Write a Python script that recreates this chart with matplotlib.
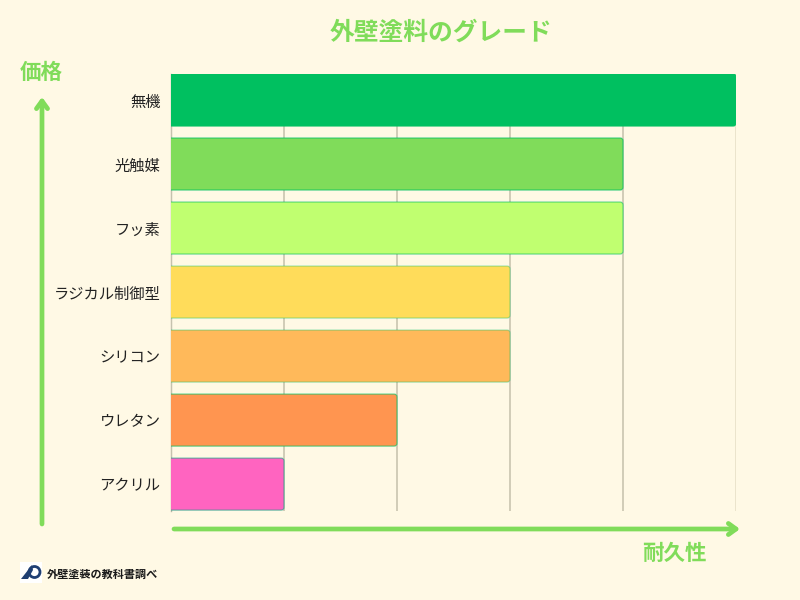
#!/usr/bin/env python3

import matplotlib.pyplot as plt
from matplotlib.patches import Circle, FancyBboxPatch, Polygon, Rectangle

plt.rcParams['font.family'] = ['Noto Sans CJK JP', 'DejaVu Sans']

grades = ["無機", "光触媒", "フッ素", "ラジカル制御型", "シリコン", "ウレタン", "アクリル"]
durability = [5, 4, 4, 3, 3, 2, 1]
colors = ["#00C060", "#80DC5A", "#C0FF70", "#FFDC5A", "#FFB95A", "#FF9550", "#FF64C0"]
edges = ["#00C060", "#00C060bb", "#00C06099", "#00C06066", "#00C06066", "#00C060aa", "#00A08099"]
ticks = [0, 1, 2, 3, 4, 5]

BG = "#FFF9E5"
GREEN = "#80DC5A"

fig = plt.figure(figsize=(8, 6), dpi=100, facecolor=BG)

# plot area, in pixels from the top left of the picture
left, right, top, bottom = 171, 736, 74, 511
ax = fig.add_axes([left / 800, 1 - bottom / 600, (right - left) / 800, (bottom - top) / 600])
ax.set_facecolor(BG)
ax.set_xlim(0, 5)
ax.set_ylim(6.42, -0.406)

# rounded bars, the left side runs past the axes and gets clipped square
bar_h = 0.8125
aspect = (right - left) / 5 / 64
for i, value in enumerate(durability):
    ax.add_patch(FancyBboxPatch((-0.05, i - bar_h / 2), value + 0.05, bar_h,
                                boxstyle="round,pad=0,rounding_size=0.025",
                                mutation_aspect=aspect, facecolor=colors[i],
                                edgecolor=edges[i], linewidth=0.8, zorder=3))

ax.set_yticks(range(len(grades)), grades)
ax.set_xticks(ticks)
ax.set_xticklabels([])
ax.tick_params(axis="both", length=0)
ax.tick_params(axis="y", labelsize=11, pad=7.5, labelcolor="#222222")
ax.grid(axis="x", color="#C9C5B0", linewidth=1.2, zorder=0)
ax.get_xgridlines()[-1].set_color("#E8E0C8")
for name, spine in ax.spines.items():
    spine.set_visible(name == "left")
ax.spines["left"].set_color("#B8B5A5")
ax.spines["left"].set_linewidth(1.0)
ax.spines["left"].set_zorder(1)

# overlay for the arrows, axis names and the logo
ov = fig.add_axes([0, 0, 1, 1])
ov.set_xlim(0, 800)
ov.set_ylim(600, 0)
ov.axis("off")
ov.patch.set_alpha(0)

arrow = dict(arrowstyle="->,head_length=0.55,head_width=0.4", color=GREEN, lw=3.4,
             shrinkA=0, shrinkB=0, capstyle="round", joinstyle="round")
ov.annotate("", xy=(42, 97), xytext=(42, 524), arrowprops=arrow)
ov.annotate("", xy=(740, 529), xytext=(174, 529), arrowprops=arrow)

ov.text(440.5, 32.5, "外壁塗料のグレード", color=GREEN, fontsize=17.8, fontweight="bold",
        ha="center", va="center")
ov.text(41, 72, "価格", color=GREEN, fontsize=15.5, fontweight="bold", ha="center", va="center")
ov.text(674, 554, "耐久性", color=GREEN, fontsize=15.5, fontweight="bold", ha="center", va="center")

# logo
ov.add_patch(Rectangle((20, 562), 22, 21, color="white", lw=0))
ov.add_patch(Circle((34.5, 572), 5.5, fill=False, edgecolor="#1F3F73", lw=2))
ov.add_patch(Polygon([(21, 579), (32, 565), (33, 570), (28, 579)], color="#1F3F73", lw=0))
ov.text(47, 574, "外壁塗装の教科書調べ", color="#1A1A1A", fontsize=8, fontweight="bold",
        ha="left", va="center")

fig.savefig("out.png", dpi=100, facecolor=BG)
